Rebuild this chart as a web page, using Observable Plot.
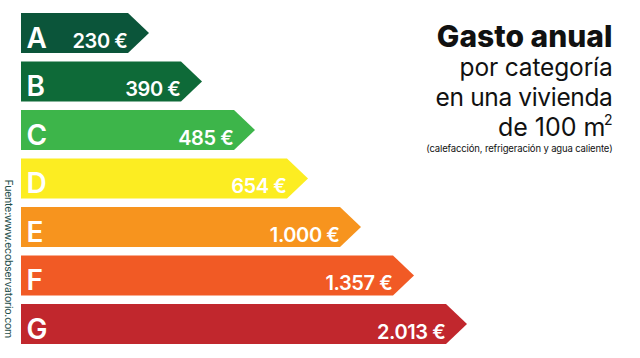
<!DOCTYPE html>
<html>
<head>
<meta charset="utf-8">
<script src="https://cdn.jsdelivr.net/npm/d3@7"></script>
<script src="https://cdn.jsdelivr.net/npm/@observablehq/plot@0.6"></script>
<style>
  html, body { margin: 0; padding: 0; background: #fff; }
  #chart { width: 640px; height: 358px; position: relative; }
  #chart svg { display: block; }
</style>
</head>
<body>
<div id="chart"></div>
<script>
// ---- data ----
const categories = ["A", "B", "C", "D", "E", "F", "G"];
const values = [230, 390, 485, 654, 1000, 1357, 2013];
const valueLabels = ["230 €", "390 €", "485 €", "654 €", "1.000 €", "1.357 €", "2.013 €"];
const steps = [2, 3, 4, 5, 6, 7, 8]; // energy-label arrow length, in steps
const colors = ["#0b553a", "#0e6a38", "#3db54a", "#fced22", "#f7941e", "#f15a25", "#c1272d"];
const titleLines = ["Gasto anual", "por categoría", "en una vivienda", "de 100 m"];
const superscript = "2";
const noteText = "(calefacción, refrigeración y agua caliente)";
const sourceText = "Fuente:www.ecobservatorio.com";

// ---- layout helpers (pixel styles) ----
const W = 640, H = 358;
const unitPx = 53;          // px per step on x
const tipPx = 21;           // arrow tip depth
const rowPx = 48.5;         // px per row
const halfBarPx = 20;       // half bar height
const left = 21;
const offsetPx = 1;         // small extra body length
const xMax = (W - left) / unitPx;
const yMin = -33 / rowPx, yMax = (H - 33) / rowPx;
const tip = tipPx / unitPx, half = halfBarPx / rowPx, off = offsetPx / unitPx;

const rows = categories.map((c, i) => ({cat: c, i, value: values[i], label: valueLabels[i], len: steps[i] + off, color: colors[i]}));
const poly = rows.flatMap(d => [
  {cat: d.cat, color: d.color, y: d.i - half, x2: d.len},
  {cat: d.cat, color: d.color, y: d.i, x2: d.len + tip},
  {cat: d.cat, color: d.color, y: d.i + half, x2: d.len}
]);

const font = "Inter, 'Liberation Sans', sans-serif";
const tl = (text, dy, size, weight, dx = -28) =>
  Plot.text([text], {frameAnchor: "top-right", text: d => d, lineAnchor: "bottom", dx, dy, fill: "#111", fontSize: size, fontWeight: weight});

const plot = Plot.plot({
  width: W, height: H,
  marginLeft: left, marginRight: 0, marginTop: 0, marginBottom: 0,
  x: {domain: [0, xMax], axis: null},
  y: {domain: [yMin, yMax], axis: null, reverse: true},
  style: {fontFamily: font, background: "#fff"},
  marks: [
    Plot.areaX(poly, {y: "y", x1: 0, x2: "x2", z: "cat", fill: "color", curve: "linear"}),
    Plot.text(rows, {x: 0, y: "i", text: "cat", textAnchor: "start", lineAnchor: "bottom", dx: 5, dy: 14, fill: "#fff", fontSize: 28, fontWeight: 600}),
    Plot.text(rows, {x: "len", y: "i", text: "label", textAnchor: "end", lineAnchor: "bottom", dx: -1, dy: 14, fill: "#fff", fontSize: 20, fontWeight: 600}),
    tl(titleLines[0], 46, 30, 800),
    tl(titleLines[1], 75, 24.5, 400),
    tl(titleLines[2], 105, 24.5, 400),
    tl(titleLines[3], 135, 25, 400, -35),
    tl(superscript, 124, 14, 400),
    tl(noteText, 151, 9.5, 400),
    Plot.text([sourceText], {frameAnchor: "top-left", text: d => d, rotate: 90, textAnchor: "start", lineAnchor: "middle", dx: -13, dy: 179, fill: "#1f4f4c", fontSize: 10.5})
  ]
});

// letter-spacing tweaks (Plot's text mark has no letterSpacing option)
const spacing = new Map([
  ...valueLabels.map(v => [v, "-0.4px"]),
  [titleLines[1], "-0.15px"],
  [titleLines[2], "-0.35px"],
  [noteText, "-0.14px"],
  [sourceText, "-0.2px"]
]);
d3.select(plot).selectAll("text").each(function() {
  const t = this.textContent;
  if (spacing.has(t)) this.setAttribute("letter-spacing", spacing.get(t));
});
document.getElementById("chart").appendChild(plot);
</script>
</body>
</html>
